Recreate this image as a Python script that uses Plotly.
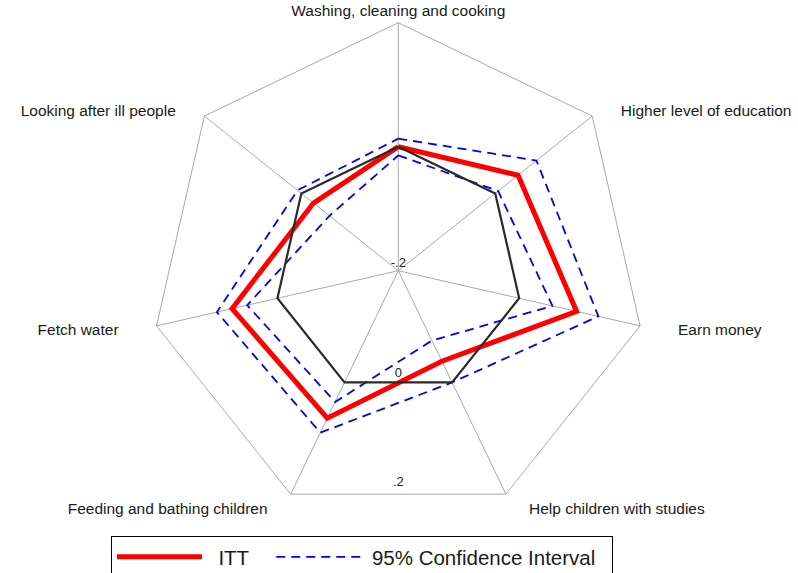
import plotly.graph_objects as go

categories = [
    "Washing, cleaning and cooking",
    "Higher level of education",
    "Earn money",
    "Help children with studies",
    "Feeding and bathing children",
    "Fetch water",
    "Looking after ill people",
]
itt = [0.0, 0.047, 0.095, -0.038, 0.064, 0.075, -0.025]
ci_upper = [0.013, 0.085, 0.131, 0.0, 0.090, 0.100, 0.008]
ci_lower = [-0.014, 0.006, 0.055, -0.075, 0.035, 0.050, -0.058]
zero_line = [0, 0, 0, 0, 0, 0, 0]

radial_ticks = [-0.2, 0.0, 0.2]
radial_ticktext = ["-.2", "0", ".2"]
r_min, r_max = -0.2, 0.2

# style: horizontal padding (in non-breaking spaces) of the axis labels
NB = "\u00a0"
label_pad_before = [0, 6, 8, 5, 0, 0, 0]
label_pad_after = [0, 0, 0, 0, 5, 8, 6]
category_ticktext = [NB * b + c + NB * a
                     for c, b, a in zip(categories, label_pad_before, label_pad_after)]
tick_label_factor = 0.88  # radial tick labels sit slightly inside each ring


def closed(vals):
    return list(vals) + [vals[0]]


theta_c = closed(categories)

fig = go.Figure()
fig.add_trace(go.Scatterpolar(
    r=closed(ci_upper), theta=theta_c, mode="lines",
    line=dict(color="#0000ff", width=1.8, dash="9px,6px"),
    name=NB + "95% Confidence Interval" + NB * 2, legendgroup="ci", legendrank=2,
))
fig.add_trace(go.Scatterpolar(
    r=closed(ci_lower), theta=theta_c, mode="lines",
    line=dict(color="#0000ff", width=1.8, dash="9px,6px"),
    name="95% Confidence Interval", legendgroup="ci", showlegend=False,
))
fig.add_trace(go.Scatterpolar(
    r=closed(itt), theta=theta_c, mode="lines",
    line=dict(color="#ff0000", width=5),
    name=NB * 2 + "ITT" + NB * 3, legendrank=1,
))
fig.add_trace(go.Scatterpolar(
    r=closed(zero_line), theta=theta_c, mode="lines",
    line=dict(color="#2a2a2a", width=2.2),
    showlegend=False, hoverinfo="skip",
))

# radial tick labels along the downward direction
tick_r = [r_min + (v - r_min) * tick_label_factor for v in radial_ticks]
fig.add_trace(go.Scatterpolar(
    r=tick_r, theta=[180] * len(tick_r), mode="text",
    text=radial_ticktext, textposition="top center",
    textfont=dict(family="Liberation Sans, Arial, sans-serif", size=13, color="#222222"),
    showlegend=False, hoverinfo="skip", subplot="polar2",
))

W, H = 798, 573
cx, cy, R = 398.3, 270.7, 248
dom_x = [(cx - R) / W, (cx + R) / W]
dom_y = [(H - cy - R) / H, (H - cy + R) / H]

fig.update_layout(
    width=W, height=H,
    margin=dict(l=0, r=0, t=0, b=0, autoexpand=False),
    paper_bgcolor="white",
    font=dict(family="Liberation Sans, Arial, sans-serif", color="#1a1a1a"),
    polar=dict(
        domain=dict(x=dom_x, y=dom_y),
        bgcolor="white",
        gridshape="linear",
        radialaxis=dict(range=[r_min, r_max], showgrid=False, showline=False,
                        showticklabels=False, ticks=""),
        angularaxis=dict(direction="clockwise", rotation=90, type="category",
                         categoryorder="array", categoryarray=categories,
                         tickmode="array", tickvals=categories, ticktext=category_ticktext,
                         showgrid=True, gridcolor="#a9a9a9", gridwidth=1,
                         showline=True, linecolor="#a9a9a9", linewidth=1,
                         ticks="", tickfont=dict(size=15.5, color="#1a1a1a")),
    ),
    polar2=dict(
        domain=dict(x=dom_x, y=dom_y),
        bgcolor="rgba(0,0,0,0)",
        radialaxis=dict(range=[r_min, r_max], visible=False),
        angularaxis=dict(direction="clockwise", rotation=90, type="linear",
                         visible=False),
    ),
    showlegend=True,
    legend=dict(
        orientation="h", x=111 / W, xanchor="left", y=(H - 536) / H, yanchor="top",
        bordercolor="black", borderwidth=1, bgcolor="white",
        font=dict(size=20.5, color="#1a1a1a"), itemwidth=85,
        traceorder="normal",
    ),
)

fig.write_html("out.html", config={"displayModeBar": False},
               post_script="document.body.style.margin='0px';")
